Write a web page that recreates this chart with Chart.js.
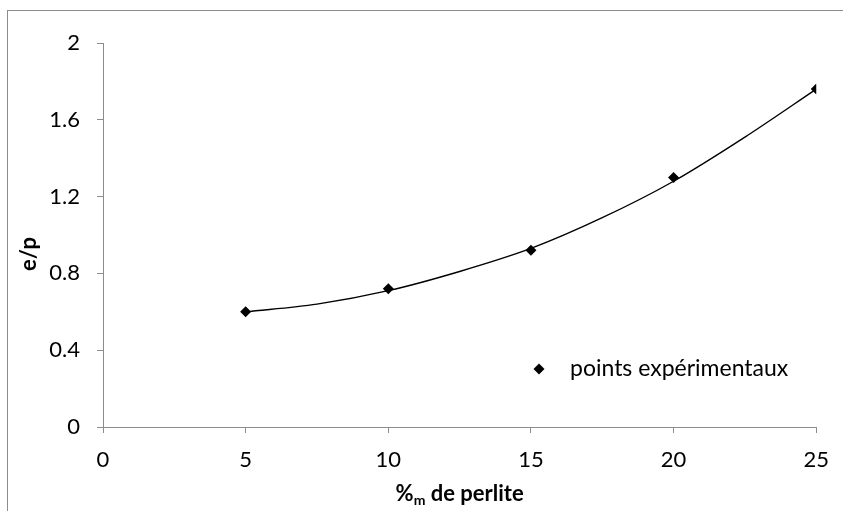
<!DOCTYPE html>
<html>
<head>
<meta charset="utf-8">
<script src="https://cdn.jsdelivr.net/npm/chart.js@4.4.1/dist/chart.umd.min.js"></script>
<style>
  html, body { margin: 0; padding: 0; background: #fff; }
  #wrap { position: relative; width: 843px; height: 511px; overflow: hidden; }
  #frame { position: absolute; left: 7px; top: 10px; width: 900px; height: 600px;
           border-left: 1px solid #8c8c8c; border-top: 1px solid #8c8c8c; }
  canvas { position: absolute; left: 0; top: 0; }
</style>
</head>
<body>
<div id="wrap">
  <div id="frame"></div>
  <canvas id="c" width="843" height="511"></canvas>
</div>
<script>
// Experimental points
const pctPerlite = [5, 10, 15, 20, 25];
const ePoints = [0.60, 0.72, 0.92, 1.30, 1.76];
// Trend curve
const curveX = [5, 7.5, 10, 12.5, 15, 17.5, 20, 22.5, 25];
const curveY = [0.60, 0.64, 0.71, 0.81, 0.93, 1.09, 1.28, 1.51, 1.76];
// Axis ticks
const xTicks = [0, 5, 10, 15, 20, 25];
const yTicks = [0, 0.4, 0.8, 1.2, 1.6, 2];
const legendLabel = 'points expérimentaux';
const yTitle = 'e/p';

const FONT = 'Lato, "Open Sans", sans-serif';
const axisGray = '#8c8c8c';

const overlay = {
  id: 'overlay',
  afterDraw(chart) {
    const ctx = chart.ctx;
    const ca = chart.chartArea;
    ctx.save();
    // legend inside plot area
    const lx = 539, ly = 369, r = 5.5;
    ctx.fillStyle = '#000';
    ctx.beginPath();
    ctx.moveTo(lx, ly - r); ctx.lineTo(lx + r, ly); ctx.lineTo(lx, ly + r); ctx.lineTo(lx - r, ly);
    ctx.closePath(); ctx.fill();
    ctx.font = '23px ' + FONT;
    ctx.textBaseline = 'middle';
    ctx.textAlign = 'left';
    ctx.fillText(legendLabel, 570, ly);
    // y title
    ctx.save();
    ctx.translate(29, 254);
    ctx.rotate(-Math.PI / 2);
    ctx.font = 'bold 22px ' + FONT;
    ctx.textAlign = 'center';
    ctx.textBaseline = 'middle';
    ctx.fillText(yTitle, 0, 0);
    ctx.restore();
    // x title with subscript
    const big = 'bold 22px ' + FONT, small = 'bold 14px ' + FONT;
    ctx.font = big; const w1 = ctx.measureText('%').width;
    ctx.font = small; const w2 = ctx.measureText('m').width;
    ctx.font = big; const w3 = ctx.measureText(' de perlite').width;
    const total = w1 + w2 + w3;
    let x0 = (ca.left + ca.right) / 2 - total / 2;
    const base = 501;
    ctx.textBaseline = 'alphabetic';
    ctx.font = big; ctx.fillText('%', x0, base);
    ctx.font = small; ctx.fillText('m', x0 + w1, base + 4);
    ctx.font = big; ctx.fillText(' de perlite', x0 + w1 + w2, base);
    ctx.restore();
  }
};

new Chart(document.getElementById('c'), {
  type: 'scatter',
  data: {
    datasets: [
      {
        label: 'courbe',
        type: 'line',
        data: curveX.map((x, i) => ({ x, y: curveY[i] })),
        borderColor: '#000',
        borderWidth: 1.4,
        pointRadius: 0,
        fill: false,
        cubicInterpolationMode: 'monotone'
      },
      {
        label: legendLabel,
        data: pctPerlite.map((x, i) => ({ x, y: ePoints[i] })),
        pointStyle: 'rectRot',
        pointRadius: 5.5,
        backgroundColor: '#000',
        borderColor: '#000',
        borderWidth: 0
      }
    ]
  },
  options: {
    responsive: false,
    animation: false,
    layout: { padding: { top: 43, right: 25, left: 0, bottom: 0 } },
    plugins: { legend: { display: false }, tooltip: { enabled: false } },
    scales: {
      x: {
        type: 'linear', min: 0, max: 25,
        afterBuildTicks: s => { s.ticks = xTicks.map(v => ({ value: v })); },
        afterFit: s => { s.height = 84; },
        grid: { drawOnChartArea: false, drawTicks: true, tickLength: 6, color: axisGray },
        border: { color: axisGray, width: 1 },
        ticks: { color: '#000', font: { family: FONT, size: 22 }, padding: 14, maxRotation: 0 }
      },
      y: {
        type: 'linear', min: 0, max: 2,
        afterBuildTicks: s => { s.ticks = yTicks.map(v => ({ value: v })); },
        afterFit: s => { s.width = 103; },
        grid: { drawOnChartArea: false, drawTicks: true, tickLength: 6, color: axisGray },
        border: { color: axisGray, width: 1 },
        ticks: { color: '#000', font: { family: FONT, size: 22 }, padding: 17,
                 callback: v => String(v) }
      }
    }
  },
  plugins: [overlay]
});
</script>
</body>
</html>
